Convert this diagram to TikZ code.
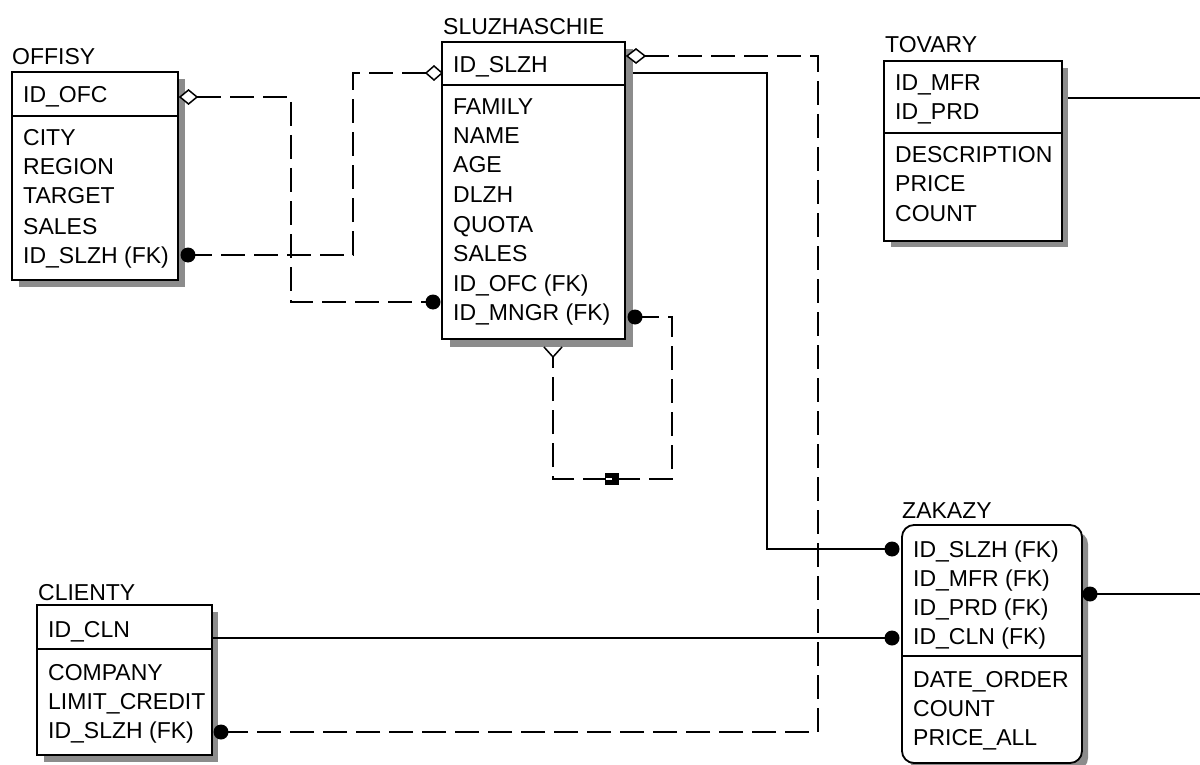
\documentclass[tikz,border=0pt]{standalone}
\usepackage{fontspec}
\setmainfont{Liberation Sans}
\newcommand\erfont{\fontsize{23}{28}\selectfont}
\tikzset{
  tbox/.style={draw=black, line width=1.8pt, fill=white, inner sep=0pt, outer sep=0pt},
  shad/.style={fill=black!45},
  row/.style={anchor=base west, inner sep=0pt, font=\erfont, text=black},
  ttl/.style={anchor=base west, inner sep=0pt, font=\erfont, text=black},
  rel/.style={line width=1.8pt, draw=black},
  drel/.style={line width=1.8pt, draw=black, dash pattern=on 24pt off 9pt},
  dv/.style={line width=1.8pt},
  dot/.style={circle, fill=black, inner sep=0pt, minimum size=15pt},
  dmd/.style={draw=black, fill=white, line width=1.5pt},
}
\begin{document}
\begin{tikzpicture}[x=1pt,y=-1pt]
\useasboundingbox (0,0) rectangle (1200,765);
\fill[white] (0,0) rectangle (1200,765);

% ---------- shadows ----------
\fill[shad] (19,79) rectangle (185,287);
\fill[shad] (450,49) rectangle (633,347);
\fill[shad] (891,68) rectangle (1068,247);
\fill[shad] (44,612) rectangle (218,762);
\fill[shad, rounded corners=12pt] (909,532) rectangle (1088,770);

% ---------- OFFISY ----------
\node[tbox, minimum width=166pt, minimum height=208pt] (offisy) at (95,176) {};
\draw[dv] (12,116) -- (178,116);
\node[ttl] (offisyT) at (12,65) {OFFISY};
\node[row] (o1) at (23,103) {ID\_OFC};
\node[row] (o2) at (23,146) {CITY};
\node[row] (o3) at (23,175) {REGION};
\node[row] (o4) at (23,204) {TARGET};
\node[row] (o5) at (23,234) {SALES};
\node[row] (o6) at (23,263) {ID\_SLZH (FK)};

% ---------- SLUZHASCHIE ----------
\node[tbox, minimum width=183pt, minimum height=297pt] (sl) at (533.5,190.5) {};
\draw[dv] (442,85) -- (625,85);
\node[ttl] (slT) at (443,35) {SLUZHASCHIE};
\node[row] (s0) at (453,73) {ID\_SLZH};
\node[row] (s1) at (453,115) {FAMILY};
\node[row] (s2) at (453,144) {NAME};
\node[row] (s3) at (453,173) {AGE};
\node[row] (s4) at (453,203) {DLZH};
\node[row] (s5) at (453,232) {QUOTA};
\node[row] (s6) at (453,261) {SALES};
\node[row] (s7) at (453,291) {ID\_OFC (FK)};
\node[row] (s8) at (453,320) {ID\_MNGR (FK)};

% ---------- TOVARY ----------
\node[tbox, minimum width=178pt, minimum height=180pt] (tv) at (973,151) {};
\draw[dv] (884,133) -- (1062,133);
\node[ttl] (tvT) at (885,53) {TOVARY};
\node[row] (t1) at (895,91) {ID\_MFR};
\node[row] (t2) at (895,120) {ID\_PRD};
\node[row] (t3) at (895,163) {DESCRIPTION};
\node[row] (t4) at (895,192) {PRICE};
\node[row] (t5) at (895,222) {COUNT};

% ---------- ZAKAZY ----------
\node[tbox, rounded corners=12pt, minimum width=180pt, minimum height=238pt] (zk) at (992,644) {};
\draw[dv] (902,656) -- (1082,656);
\node[ttl] (zkT) at (902,518) {ZAKAZY};
\node[row] (z1) at (913,557) {ID\_SLZH (FK)};
\node[row] (z2) at (913,586) {ID\_MFR (FK)};
\node[row] (z3) at (913,615) {ID\_PRD (FK)};
\node[row] (z4) at (913,644) {ID\_CLN (FK)};
\node[row] (z5) at (913,687) {DATE\_ORDER};
\node[row] (z6) at (913,716) {COUNT};
\node[row] (z7) at (913,745) {PRICE\_ALL};

% ---------- CLIENTY ----------
\node[tbox, minimum width=175pt, minimum height=150pt] (cl) at (124.5,680) {};
\draw[dv] (37,649) -- (212,649);
\node[ttl] (clT) at (38,600) {CLIENTY};
\node[row] (c1) at (48,637) {ID\_CLN};
\node[row] (c2) at (48,680) {COMPANY};
\node[row] (c3) at (48,709) {LIMIT\_CREDIT};
\node[row] (c4) at (48,738) {ID\_SLZH (FK)};

% ---------- anchor coordinates ----------
\coordinate (oPK) at (197,97);
\coordinate (sFKofc) at (433,302);
\coordinate (oFK) at (188,255);
\coordinate (sPKl) at (426,73);
\coordinate (sPKr) at (645,56);
\coordinate (cFK) at (221,732);
\coordinate (sPKs) at (633,73);
\coordinate (zFKs) at (892,549);
\coordinate (cPK) at (212,638);
\coordinate (zFKc) at (892,638);
\coordinate (tPK) at (1068,98);
\coordinate (tEnd) at (1200,98);
\coordinate (zR) at (1090,594);
\coordinate (zEnd) at (1200,594);
\coordinate (sMn) at (635,317);
\coordinate (sSelf) at (553,357);

% ---------- connectors ----------
% OFFISY.ID_OFC -> SLUZHASCHIE.ID_OFC
\draw[drel] (oPK) -- (291,97) -- (291,302) -- (sFKofc);
% OFFISY.ID_SLZH -> SLUZHASCHIE.ID_SLZH
\draw[drel] (oFK) -- (353,255) -- (353,73) -- (sPKl);
% SLUZHASCHIE -> CLIENTY.ID_SLZH
\draw[drel] (sPKr) -- (818,56) -- (818,732) -- (cFK);
% SLUZHASCHIE -> ZAKAZY.ID_SLZH
\draw[rel] (sPKs) -- (767,73) -- (767,549) -- (zFKs);
% CLIENTY -> ZAKAZY.ID_CLN
\draw[rel] (cPK) -- (zFKc);
% TOVARY -> off-page
\draw[rel] (tPK) -- (tEnd);
% ZAKAZY -> off-page
\draw[rel] (zR) -- (zEnd);
% self relation
\draw[drel] (sMn) -- (672,317) -- (672,479) -- (553,479) -- (sSelf);

% ---------- end marks ----------
\filldraw[dmd] (180,97) -- (188.5,90) -- (197,97) -- (188.5,104) -- cycle;
\filldraw[dmd] (426,73) -- (434,66) -- (442,73) -- (434,80) -- cycle;
\filldraw[dmd] (627,56) -- (636,49) -- (645,56) -- (636,63) -- cycle;
\draw[line width=1.5pt, fill=white] (544,347) -- (553,357) -- (562,347);
\node[dot] (d1) at (sFKofc) {};
\node[dot] (d2) at (oFK) {};
\node[dot] (d3) at (cFK) {};
\node[dot] (d4) at (zFKs) {};
\node[dot] (d5) at (zFKc) {};
\node[dot] (d6) at (zR) {};
\node[dot] (d7) at (sMn) {};
\fill[black] (605,473) rectangle (619,485);
\draw[white, line width=1.6pt] (606,479) -- (612,479);
\end{tikzpicture}
\end{document}
